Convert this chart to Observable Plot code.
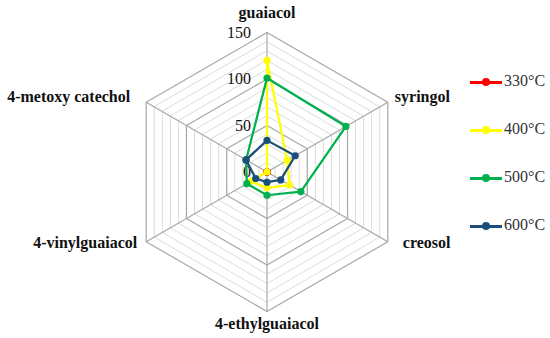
<!DOCTYPE html>
<html>
<head>
<meta charset="utf-8">
<script src="https://cdn.jsdelivr.net/npm/d3@7"></script>
<script src="https://cdn.jsdelivr.net/npm/@observablehq/plot@0.6"></script>
<style>
  html, body { margin: 0; padding: 0; background: #fff; }
  #wrap { position: relative; width: 550px; height: 338px; font-family: "Liberation Serif", "DejaVu Serif", serif; }
  #legend { position: absolute; left: 468px; top: 0; }
  .item { position: absolute; left: 0; width: 82px; height: 16px; }
  .item .ln { position: absolute; left: 2px; top: 7px; width: 32px; height: 2.5px; }
  .item .dt { position: absolute; left: 14px; top: 4px; width: 8px; height: 8px; border-radius: 50%; }
  .item .tx { position: absolute; left: 36px; top: -2px; font-size: 16px; color: #333; white-space: nowrap; }
</style>
</head>
<body>
<div id="wrap"><div id="chart"></div><div id="legend"></div></div>
<script>
const categories = ["guaiacol", "syringol", "creosol", "4-ethylguaiacol", "4-vinylguaiacol", "4-metoxy catechol"];
const seriesNames = ["330°C", "400°C", "500°C", "600°C"];
const v330 = [0, 0, 0, 0, 0, 0];
const v400 = [120, 25, 28, 17, 20, 0];
const v500 = [101, 98, 42, 25, 25, 26];
const v600 = [34, 35, 17, 11, 14, 26];
const seriesColors = ["#ff0000", "#ffff00", "#00b050", "#1b4f7a"];
const tickValues = [0, 50, 100, 150];
const gridLevels = [10, 20, 30, 40, 50, 60, 70, 80, 90, 100, 110, 120, 130, 140, 150];
const majorLevels = [50, 100, 150];

const n = categories.length;
const ang = i => (i * 2 * Math.PI) / n;
const px = (v, i) => v * Math.sin(ang(i));
const py = (v, i) => v * Math.cos(ang(i));

const allValues = [v330, v400, v500, v600];
const rows = [];
allValues.forEach((vals, s) => vals.forEach((v, i) => rows.push({series: seriesNames[s], cat: categories[i], i, v})));

const gridRows = [];
gridLevels.forEach(L => categories.forEach((c, i) => gridRows.push({L, i, major: majorLevels.includes(L)})));

const labelOffsets = [
  {dx: 0, dy: -20, textAnchor: "middle"},
  {dx: 7, dy: -5, textAnchor: "start"},
  {dx: 15, dy: 1, textAnchor: "start"},
  {dx: 0, dy: 12, textAnchor: "middle"},
  {dx: -9, dy: 1, textAnchor: "end"},
  {dx: -16, dy: -5, textAnchor: "end"}
];

const marks = [
  Plot.line(gridRows.filter(d => !d.major), {x: d => px(d.L, d.i), y: d => py(d.L, d.i), z: "L", curve: "linear-closed", stroke: "#dcdcdc", strokeWidth: 1}),
  Plot.line(gridRows.filter(d => d.major), {x: d => px(d.L, d.i), y: d => py(d.L, d.i), z: "L", curve: "linear-closed", stroke: "#a6a6a6", strokeWidth: 1.2}),
  Plot.link(categories.map((c, i) => i), {x1: 0, y1: 0, x2: i => px(150, i), y2: i => py(150, i), stroke: "#a6a6a6", strokeWidth: 1.2}),
  Plot.text(tickValues, {x: 0, y: d => d, text: d => String(d), dx: -16, textAnchor: "end", fontSize: 16, fill: "#111"}),
  ...categories.map((c, i) => Plot.text([c], {x: px(150, i), y: py(150, i), text: d => d, fontSize: 16, fontWeight: "bold", fill: "#111", ...labelOffsets[i]}))
];
seriesNames.forEach((s, k) => {
  const data = rows.filter(d => d.series === s);
  marks.push(Plot.line(data, {x: d => px(d.v, d.i), y: d => py(d.v, d.i), curve: "linear-closed", stroke: seriesColors[k], strokeWidth: 2.25}));
  marks.push(Plot.dot(data, {x: d => px(d.v, d.i), y: d => py(d.v, d.i), r: 3.6, fill: seriesColors[k], stroke: "none"}));
});

const chart = Plot.plot({
  width: 550,
  height: 338,
  marginLeft: 127,
  marginRight: 144,
  marginTop: 32,
  marginBottom: 27,
  x: {domain: [-150, 150], axis: null},
  y: {domain: [-150, 150], axis: null},
  style: {fontFamily: "'Liberation Serif', 'DejaVu Serif', serif", background: "#fff", overflow: "visible"},
  marks
});
document.getElementById("chart").appendChild(chart);

const legend = document.getElementById("legend");
seriesNames.forEach((s, k) => {
  const it = document.createElement("div");
  it.className = "item";
  it.style.top = (74 + k * 48) + "px";
  it.innerHTML = `<div class="ln" style="background:${seriesColors[k]}"></div><div class="dt" style="background:${seriesColors[k]}"></div><div class="tx">${s}</div>`;
  legend.appendChild(it);
});
</script>
</body>
</html>
